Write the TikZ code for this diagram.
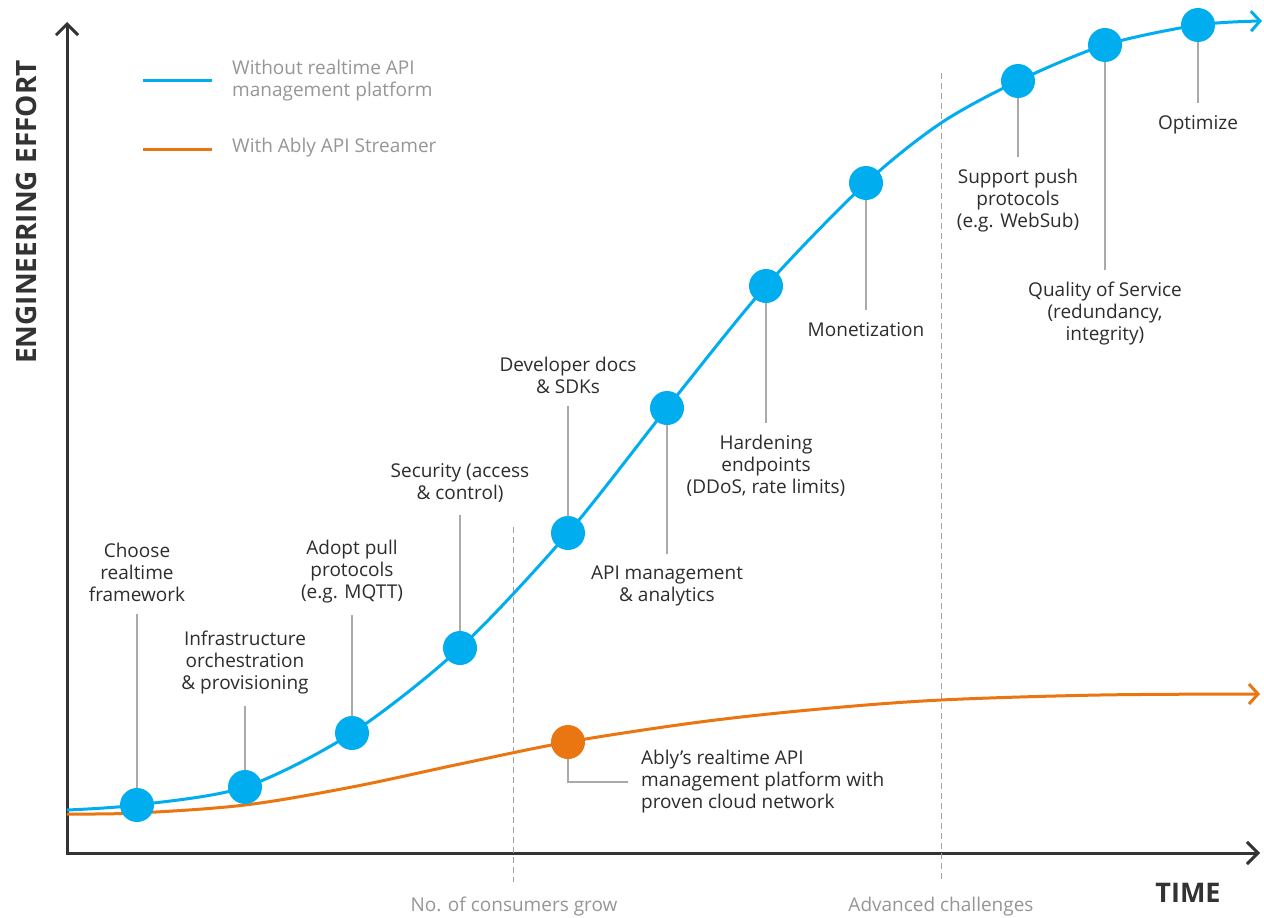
\documentclass[tikz,border=0pt]{standalone}
\usepackage{fontspec}
\setmainfont{Open Sans}
\usetikzlibrary{arrows.meta}
\definecolor{ablyblue}{RGB}{0,174,239}
\definecolor{ablyorange}{RGB}{234,118,18}
\definecolor{axisgray}{RGB}{51,51,51}
\definecolor{conngray}{RGB}{170,170,170}
\definecolor{txtgray}{RGB}{45,45,45}
\definecolor{leggray}{RGB}{150,150,150}
\definecolor{dashgray}{RGB}{160,160,160}
\begin{document}
\begin{tikzpicture}[x=1pt,y=-1pt,
  lbl/.style={font=\fontsize{19}{22}\selectfont, text=txtgray, align=center, inner sep=0pt},
  leglbl/.style={font=\fontsize{19}{22}\selectfont, text=leggray, align=left, inner sep=0pt, anchor=west},
  bottomlbl/.style={font=\fontsize{19}{22}\selectfont, text=leggray, inner sep=0pt},
  dot/.style={circle, fill=ablyblue, minimum size=34pt, inner sep=0pt},
  odot/.style={circle, fill=ablyorange, minimum size=34pt, inner sep=0pt},
  conn/.style={draw=conngray, line width=1.5pt, shorten >=12pt},
  curveb/.style={draw=ablyblue, line width=3pt, -{Straight Barb[length=9pt,width=20pt]}},
  curveo/.style={draw=ablyorange, line width=3pt, -{Straight Barb[length=9pt,width=20pt]}},
  axis/.style={draw=axisgray, line width=3pt, line join=miter, {Straight Barb[length=11pt,width=22pt]}-{Straight Barb[length=11pt,width=22pt]}},
  divider/.style={draw=dashgray, line width=1pt, dash pattern=on 6pt off 4pt}
]
\useasboundingbox (0,0) rectangle (1264,918);
\fill[white] (0,0) rectangle (1264,918);

% axes
\coordinate (O) at (67,853);
\coordinate (ytop) at (67,22);
\coordinate (xend) at (1260,853);
\draw[axis] (ytop) -- (O) -- (xend);

\node[font=\fontsize{28}{30}\selectfont\bfseries, text=axisgray, rotate=90, inner sep=0pt] (ylab) at (26,212) {ENGINEERING EFFORT};
\node[font=\fontsize{27}{30}\selectfont\bfseries, text=axisgray, inner sep=0pt] (xlab) at (1188,893) {TIME};

% dividers
\coordinate (d1t) at (513,527);
\coordinate (d1b) at (513,882);
\coordinate (d2t) at (941,73);
\coordinate (d2b) at (941,882);
\draw[divider] (d1t) -- (d1b);
\draw[divider] (d2t) -- (d2b);
\node[bottomlbl] (ph1) at (514,907) {No. of consumers grow};
\node[bottomlbl] (ph2) at (941,907) {Advanced challenges};

% legend
\draw[draw=ablyblue, line width=3pt] (143,80) -- (212,80);
\draw[draw=ablyorange, line width=3pt] (143,149) -- (212,149);
\node[leglbl] (leg1) at (232,81) {Without realtime API\\management platform};
\node[leglbl] (leg2) at (232,148) {With Ably API Streamer};

% curves
\draw[curveo] plot[smooth, tension=0.55] coordinates {(67,814) (137,813) (245,805) (352,787) (460,764) (568,742) (700,722) (820,709) (941,700) (1100,695) (1260,694)};
\draw[curveb] plot[smooth, tension=0.5] coordinates {(67,810) (137,805) (245,787) (352,733) (460,648) (568,533) (667,408) (766,286) (866,183) (941,123) (1018,81) (1105,45) (1198,25) (1262,21)};

% blue milestones
\node[dot] (m1) at (137,805) {};
\node[dot] (m2) at (245,787) {};
\node[dot] (m3) at (352,733) {};
\node[dot] (m4) at (460,648) {};
\node[dot] (m5) at (568,533) {};
\node[dot] (m6) at (667,408) {};
\node[dot] (m7) at (766,286) {};
\node[dot] (m8) at (866,183) {};
\node[dot] (m9) at (1018,81) {};
\node[dot] (m10) at (1105,45) {};
\node[dot] (m11) at (1198,25) {};

% labels above
\node[lbl, anchor=south] (l1) at (137,602) {Choose\\realtime\\framework};
\node[lbl, anchor=south] (l2) at (245,694) {Infrastructure\\orchestration\\\& provisioning};
\node[lbl, anchor=south] (l3) at (352,603) {Adopt pull\\protocols\\(e.g. MQTT)};
\node[lbl, anchor=south] (l4) at (460,503) {Security (access\\\& control)};
\node[lbl, anchor=south] (l5) at (568,394) {Developer docs\\\& SDKs};
% labels below
\node[lbl, anchor=north] (l6) at (667,566) {API management\\\& analytics};
\node[lbl, anchor=north] (l7) at (766,435) {Hardening\\endpoints\\(DDoS, rate limits)};
\node[lbl, anchor=north] (l8) at (866,322) {Monetization};
\node[lbl, anchor=north] (l9) at (1018,169) {Support push\\protocols\\(e.g. WebSub)};
\node[lbl, anchor=north] (l10) at (1105,282) {Quality of Service\\(redundancy,\\integrity)};
\node[lbl, anchor=north] (l11) at (1198,115) {Optimize};

\foreach \i in {1,...,11} {\draw[conn] (m\i) -- (l\i);}

% orange milestone
\node[odot] (om) at (568,742) {};
\node[lbl, align=left, anchor=west] (ol) at (641,782) {Ably’s realtime API\\management platform with\\proven cloud network};
\draw[conn, shorten >=13pt] (om) |- (ol);
\end{tikzpicture}
\end{document}
